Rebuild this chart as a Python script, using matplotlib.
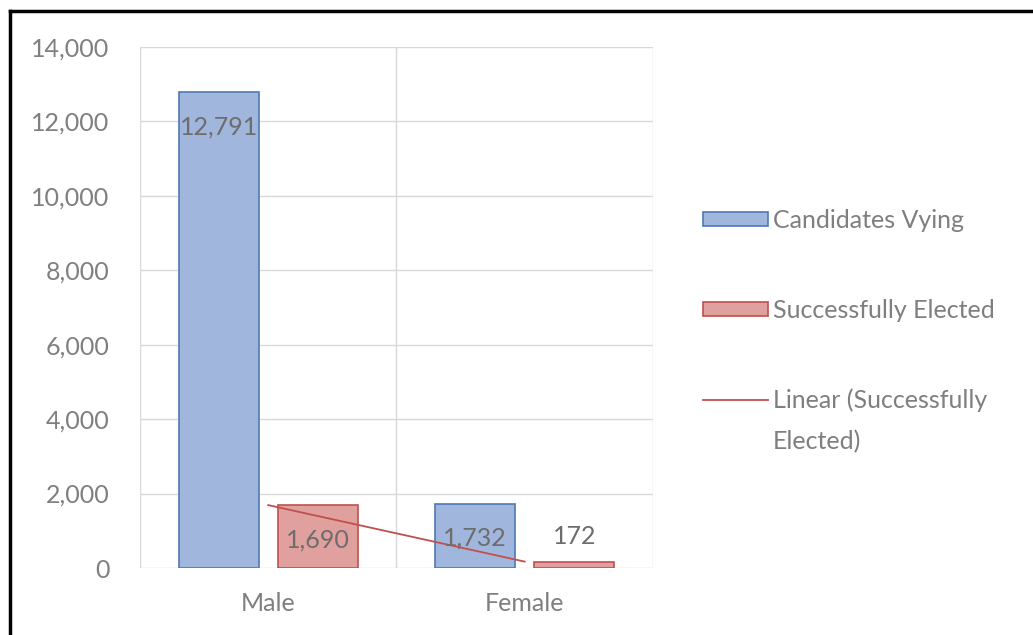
import numpy as np
import matplotlib
matplotlib.use("Agg")
import matplotlib.pyplot as plt
from matplotlib.lines import Line2D
from matplotlib.patches import Patch

# data
categories = ["Male", "Female"]
candidates = [12791, 1732]
elected = [1690, 172]
yticks = [0, 2000, 4000, 6000, 8000, 10000, 12000, 14000]

plt.rcParams['font.family'] = ['Lato', 'DejaVu Sans']
txt_grey = '#7f7f7f'
lbl_grey = '#6d6d6d'
blue_fill, blue_edge = '#a1b6dc', '#4f78b5'
red_fill, red_edge = '#e0a09e', '#c0504d'
fs = 18

fig = plt.figure(figsize=(10.33, 6.35), dpi=100, facecolor='white')
ax = fig.add_axes([0.1355, 0.1055, 0.4966, 0.8205])

x = np.arange(len(categories))
w = 0.3125
off = 0.193

b1 = ax.bar(x - off, candidates, w, color=blue_fill, edgecolor=blue_edge, lw=1.2, zorder=3)
b2 = ax.bar(x + off, elected, w, color=red_fill, edgecolor=red_edge, lw=1.2, zorder=3)

# linear trendline through the elected series (at category centres)
coef = np.polyfit(x, elected, 1)
trend, = ax.plot(x, np.polyval(coef, x), color='#c0504d', lw=1.3, zorder=4)

# data labels: inside end, the tiny bar gets it above
for bars, vals in ((b1, candidates), (b2, elected)):
    for bar, v in zip(bars, vals):
        cx = bar.get_x() + bar.get_width() / 2
        dy = -25 if v > 1000 else 18
        ax.annotate(f"{v:,}", (cx, v), xytext=(0, dy), textcoords='offset points',
                    ha='center', va='center', fontsize=fs, color=lbl_grey, zorder=5)

ax.set_xlim(-0.5, 1.5)
ax.set_ylim(0, 14000)
ax.set_yticks(yticks)
ax.set_yticklabels([f"{t:,}" for t in yticks])
ax.set_xticks(x)
ax.set_xticklabels(categories)
ax.tick_params(axis='both', length=0, labelsize=fs, colors=txt_grey)
ax.tick_params(axis='y', pad=22)
ax.tick_params(axis='x', pad=17)

for t in yticks:
    ax.axhline(t, color='#d9d9d9', lw=1, zorder=1)
for xv in (-0.5, 0.5, 1.5):
    ax.axvline(xv, color='#d9d9d9', lw=1, zorder=1)
for s in ax.spines.values():
    s.set_visible(False)

handles = [Patch(facecolor=blue_fill, edgecolor=blue_edge, lw=1.2),
           Patch(facecolor=red_fill, edgecolor=red_edge, lw=1.2),
           trend]
labels = ["Candidates Vying", "Successfully Elected", "Linear (Successfully"]
leg = fig.legend(handles, labels, loc='upper left', bbox_to_anchor=(0.6805, 0.671),
                 frameon=False, fontsize=fs, handlelength=2.6, handleheight=0.5,
                 handletextpad=0.2, labelspacing=2.67, borderaxespad=0, borderpad=0)
for t in leg.get_texts():
    t.set_color(txt_grey)

# second line of the trendline label sits under the first, handle stays on line one
fig.canvas.draw()
bb = leg.get_texts()[2].get_window_extent()
fig.text(bb.x0 / 1033, (bb.y0 - 41) / 635, "Elected)", fontsize=fs, color=txt_grey,
         ha='left', va='bottom')

# chart frame (only top and left edges fall inside the image)
fig.add_artist(Line2D([9.5 / 1033, 1], [1 - 10.5 / 635, 1 - 10.5 / 635], color='black', lw=2.5))
fig.add_artist(Line2D([9.5 / 1033, 9.5 / 1033], [0, 1 - 10.5 / 635], color='black', lw=2.5))

fig.savefig('out.png', dpi=100, facecolor='white')
